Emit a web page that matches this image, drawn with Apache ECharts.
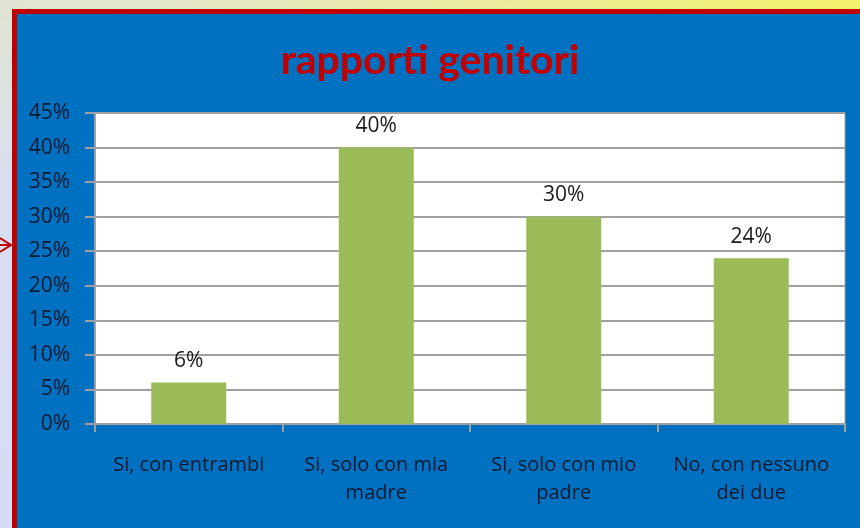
<!DOCTYPE html>
<html>
<head>
<meta charset="utf-8">
<script src="https://cdn.jsdelivr.net/npm/echarts@6/dist/echarts.min.js"></script>
<style>
html, body { margin: 0; padding: 0; }
body {
  width: 860px;
  height: 528px;
  overflow: hidden;
  background: linear-gradient(200deg, #f2f26a 0%, #e4e6c8 30%, #d9def2 60%, #d6dcf6 100%);
}
#main { width: 860px; height: 528px; }
</style>
</head>
<body>
<div id="main"></div>
<script>
// dati
var categories = ['Si, con entrambi', 'Si, solo con mia\nmadre', 'Si, solo con mio\npadre', 'No, con nessuno\ndei due']
var values = [6, 40, 30, 24]
var yTicks = [0, 5, 10, 15, 20, 25, 30, 35, 40, 45]

var chartDom = document.getElementById('main')
var myChart = echarts.init(chartDom, null, { renderer: 'canvas' })
var font = '"Open Sans", Lato, sans-serif'

var option = {
  backgroundColor: 'transparent',
  animation: false,
  graphic: [
    { type: 'rect', shape: { x: 12, y: 9, width: 860, height: 530 }, style: { fill: '#c00000' }, z: -10 },
    { type: 'rect', shape: { x: 17, y: 14, width: 860, height: 530 }, style: { fill: '#0070c0' }, z: -9 },
    { type: 'polyline', shape: { points: [[0, 238], [11, 245], [0, 252]] }, style: { stroke: '#c00000', lineWidth: 2, fill: null }, z: -8 },
    { type: 'line', shape: { x1: 0, y1: 245, x2: 11, y2: 245 }, style: { stroke: '#c00000', lineWidth: 2 }, z: -8 }
  ],
  title: {
    text: 'rapporti genitori',
    left: 'center',
    top: 35,
    textStyle: { color: '#c00000', fontSize: 41, fontWeight: 'bold', fontFamily: 'Lato, sans-serif' }
  },
  grid: {
    left: 95,
    right: 15,
    top: 113,
    bottom: 104,
    show: true,
    backgroundColor: '#ffffff',
    borderColor: '#a0a0a0',
    borderWidth: 1
  },
  xAxis: {
    type: 'category',
    data: categories,
    axisLine: { lineStyle: { color: '#a0a0a0', width: 2 } },
    axisTick: { show: true, length: 8, lineStyle: { color: '#a0a0a0', width: 2 } },
    axisLabel: {
      color: '#0b1a2e',
      fontSize: 20,
      fontFamily: font,
      margin: 27,
      lineHeight: 28,
      interval: 0
    }
  },
  yAxis: {
    type: 'value',
    min: 0,
    max: 45,
    interval: 5,
    axisLine: { show: true, lineStyle: { color: '#a0a0a0', width: 2 } },
    axisTick: { show: true, length: 10, lineStyle: { color: '#a0a0a0', width: 2 } },
    splitLine: { lineStyle: { color: '#a0a0a0', width: 2 } },
    axisLabel: {
      color: '#0b1a2e',
      fontSize: 21,
      fontFamily: font,
      margin: 25,
      formatter: function (v) { return yTicks.indexOf(v) >= 0 ? v + '%' : '' }
    }
  },
  series: [
    {
      type: 'bar',
      data: values,
      barWidth: '40%',
      itemStyle: { color: '#9bbb59' },
      label: {
        show: true,
        position: 'top',
        distance: 11,
        color: '#1a1a1a',
        fontSize: 21,
        fontFamily: font,
        formatter: '{c}%'
      }
    }
  ]
}

myChart.setOption(option)
</script>
</body>
</html>
